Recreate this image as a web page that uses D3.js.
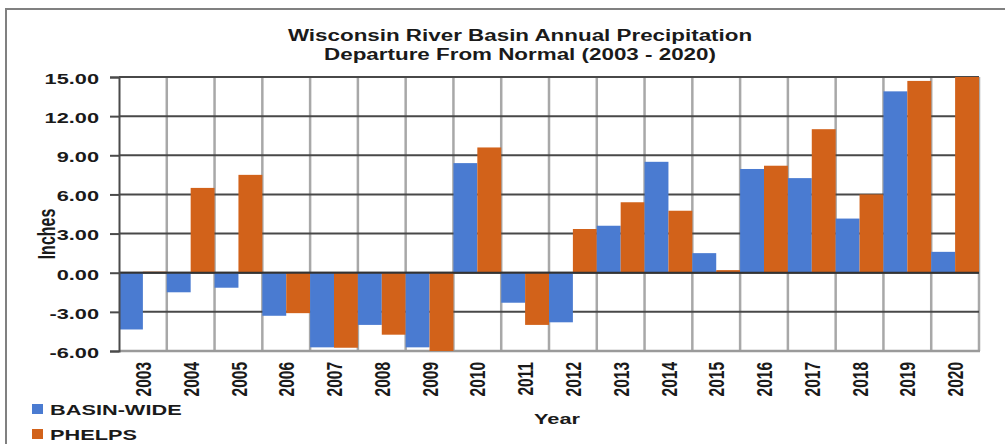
<!DOCTYPE html>
<html>
<head>
<meta charset="utf-8">
<script src="https://cdn.jsdelivr.net/npm/d3@7"></script>
<style>
  body { margin: 0; background: #fff; }
  text { font-family: "Liberation Sans", Arial, sans-serif; font-weight: bold; fill: #1a1a1a; }
</style>
</head>
<body>
<div id="chart"></div>
<script>
const years = ["2003","2004","2005","2006","2007","2008","2009","2010","2011",
	"2012","2013","2014","2015","2016","2017","2018","2019","2020"];
const seriesNames = ["BASIN-WIDE", "PHELPS"];
const basinWide = [-4.35, -1.5, -1.15, -3.3, -5.72, -4.0, -5.72, 8.4, -2.3,
	-3.8, 3.6, 8.5, 1.5, 7.95, 7.25, 4.15, 13.9, 1.6];
const phelps = [0.08, 6.5, 7.5, -3.1, -5.75, -4.75, -6.0, 9.6, -4.0,
	3.35, 5.4, 4.75, 0.2, 8.2, 11.0, 6.0, 14.7, 15.0];
const yTicks = [-6, -3, 0, 3, 6, 9, 12, 15];
const titleLines = ["Wisconsin River Basin Annual Precipitation", "Departure From Normal (2003 - 2020)"];

const W = 1005, H = 444;
const colors = ["#4a7bd1", "#d2621a"];
const sx = 1.45; // the picture is stretched sideways

const svg = d3.select("#chart").append("svg")
	.attr("width", W)
	.attr("height", H);

svg.append("rect").attr("width", W).attr("height", H).attr("fill", "#fff");

// outer frame
svg.append("path")
	.attr("d", `M6,${H} V9 H${W}`)
	.attr("fill", "none")
	.attr("stroke", "#808080")
	.attr("stroke-width", 2);

const x = d3.scaleBand().domain(years).range([119, 979]).padding(0);
const xs = d3.scaleBand().domain(seriesNames).range([0, x.bandwidth()]).padding(0);
const y = d3.scaleLinear().domain([-6, 15]).range([351, 77]);

const rows = years.map((yr, i) => ({ year: yr, values: [basinWide[i], phelps[i]] }));

// vertical grid (category borders)
svg.append("g").selectAll("line")
	.data(years.slice(1).concat(["end"]))
	.join("line")
	.attr("x1", d => d === "end" ? x.range()[1] : x(d))
	.attr("x2", d => d === "end" ? x.range()[1] : x(d))
	.attr("y1", y(15)).attr("y2", y(-6))
	.attr("stroke", "#a8a8a8")
	.attr("stroke-width", 2.5);

// horizontal grid
svg.append("g").selectAll("line")
	.data(yTicks.filter(v => v > -6))
	.join("line")
	.attr("x1", 119).attr("x2", 979)
	.attr("y1", d => y(d)).attr("y2", d => y(d))
	.attr("stroke", "#484848")
	.attr("stroke-width", 2);

// bottom border
svg.append("line")
	.attr("x1", 119).attr("x2", 980)
	.attr("y1", y(-6)).attr("y2", y(-6))
	.attr("stroke", "#9a9a9a")
	.attr("stroke-width", 2.5);

// bars
const groups = svg.append("g").selectAll("g")
	.data(rows)
	.join("g")
	.attr("transform", d => `translate(${x(d.year)},0)`);

groups.selectAll("rect")
	.data(d => d.values.map((v, i) => ({ key: seriesNames[i], value: v, i })))
	.join("rect")
	.attr("x", d => xs(d.key))
	.attr("width", xs.bandwidth())
	.attr("y", d => y(Math.max(0, d.value)))
	.attr("height", d => Math.abs(y(d.value) - y(0)))
	.attr("fill", d => colors[d.i]);

// zero line on top
svg.append("line")
	.attr("x1", 119).attr("x2", 979)
	.attr("y1", y(0)).attr("y2", y(0))
	.attr("stroke", "#333")
	.attr("stroke-width", 2);

// y axis
const fmt = d3.format(".2f");
const yAxis = svg.append("g")
	.attr("transform", "translate(119,0)")
	.call(d3.axisLeft(y).tickValues(yTicks).tickFormat(d => fmt(d).replace("\u2212", "-")).tickSize(9));
yAxis.select(".domain").attr("stroke", "#4a4a4a").attr("stroke-width", 2);
yAxis.selectAll(".tick line").attr("stroke", "#4a4a4a").attr("stroke-width", 2);
yAxis.selectAll(".tick text")
	.attr("x", 0)
	.attr("dy", "0.36em")
	.attr("transform", `translate(-20,1) scale(${sx},1)`)
	.style("font-size", "15px")
	.style("font-family", "Liberation Sans, Arial, sans-serif")
	.style("font-weight", "bold")
	.attr("fill", "#1a1a1a");

// x axis
const xAxis = svg.append("g")
	.attr("transform", `translate(0,${y(-6)})`)
	.call(d3.axisBottom(x).tickSize(0));
xAxis.select(".domain").remove();
xAxis.selectAll(".tick text")
	.attr("x", 0).attr("y", 0)
	.attr("dy", "0.36em")
	.attr("text-anchor", "end")
	.attr("transform", `translate(0,11) scale(${sx},1) rotate(-90)`)
	.style("font-size", "15.5px")
	.style("font-family", "Liberation Sans, Arial, sans-serif")
	.style("font-weight", "bold")
	.attr("fill", "#1a1a1a");

// title
svg.append("g").selectAll("text")
	.data(titleLines)
	.join("text")
	.attr("text-anchor", "middle")
	.attr("transform", (d, i) => `translate(520,${41 + i * 19}) scale(1.4,1)`)
	.style("font-size", "16px")
	.text(d => d);

// axis titles
svg.append("text")
	.attr("text-anchor", "middle")
	.attr("transform", `translate(${557},424) scale(${sx},1)`)
	.style("font-size", "15px")
	.text("Year");

svg.append("text")
	.attr("text-anchor", "middle")
	.attr("dy", "0.35em")
	.attr("transform", `translate(47,234) scale(${sx},1) rotate(-90)`)
	.style("font-size", "16px")
	.text("Inches");

// legend
const legend = svg.append("g").selectAll("g")
	.data(seriesNames)
	.join("g")
	.attr("transform", (d, i) => `translate(32,${404 + i * 25})`);
legend.append("rect")
	.attr("width", 11).attr("height", 10)
	.attr("fill", (d, i) => colors[i]);
legend.append("text")
	.attr("transform", `translate(18,11) scale(${sx},1)`)
	.style("font-size", "15px")
	.text(d => d);
</script>
</body>
</html>
